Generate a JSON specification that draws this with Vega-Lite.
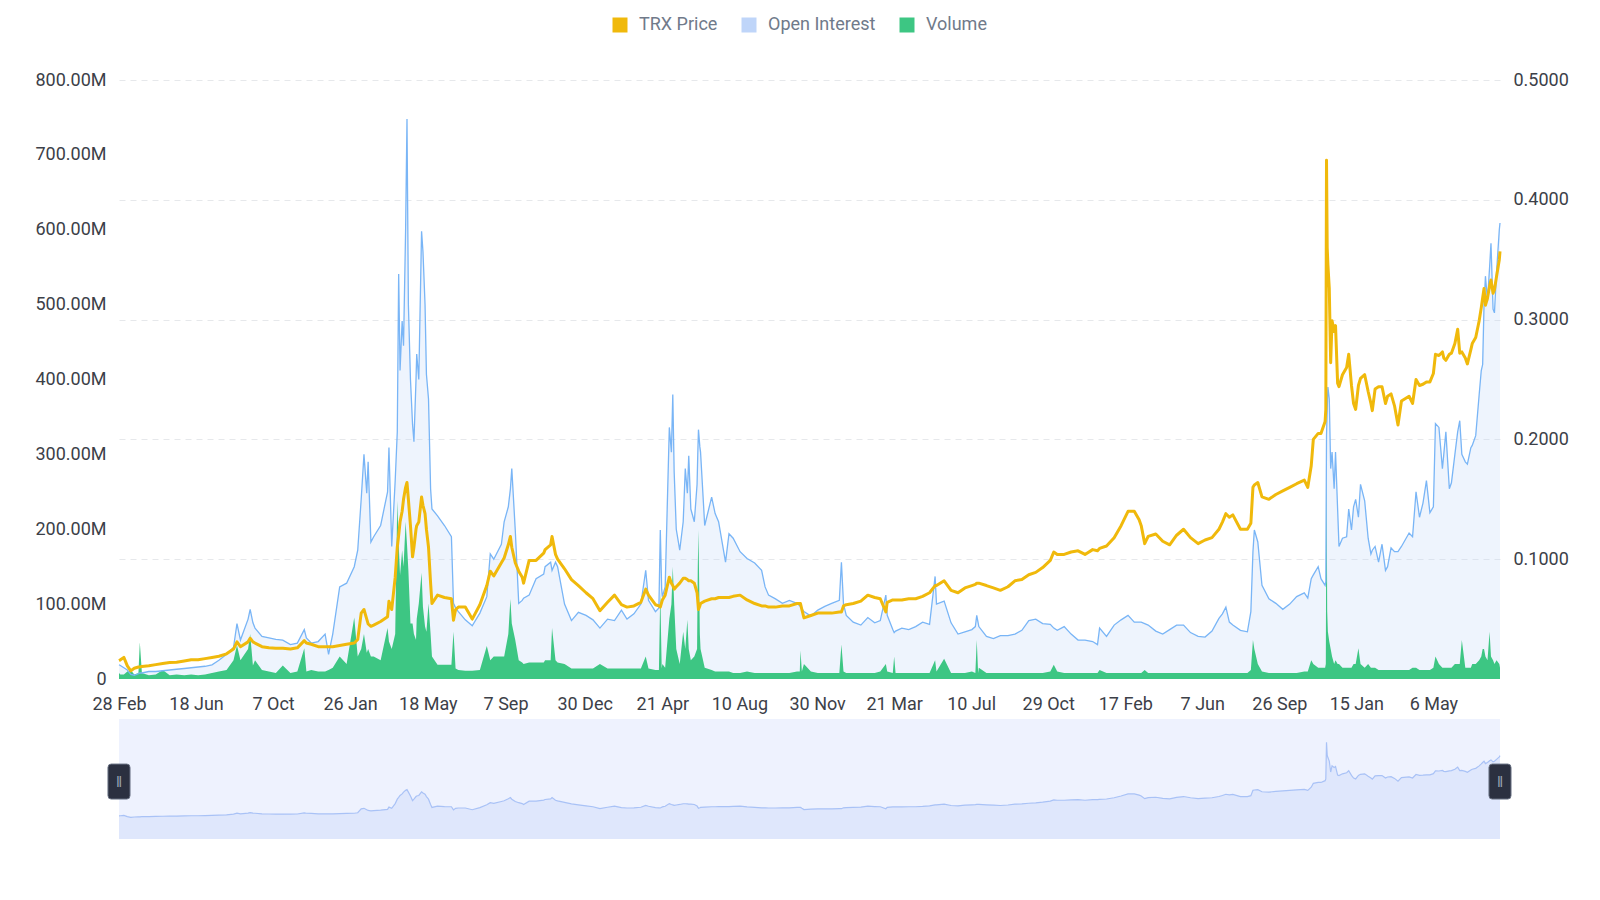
{
  "$schema": "https://vega.github.io/schema/vega-lite/v6.json",
  "autosize": {"type": "pad"},
  "padding": {"left": 34, "top": 16, "right": 10, "bottom": 10},
  "background": "white",
  "spacing": 6,
  "config": {
    "font": "Roboto, sans-serif",
    "view": {"stroke": null},
    "axis": {"labelFont": "Roboto, sans-serif", "labelFontSize": 18, "labelColor": "#3C4048"}
  },
  "data": {
    "format": {"parse": {"date": "date"}},
    "values": [
      {"date": "2020-02-28", "price": 0.0154, "oi": 19, "vol": 8},
      {"date": "2020-03-01", "price": 0.016, "oi": 18, "vol": 6},
      {"date": "2020-03-06", "price": 0.018, "oi": 15, "vol": 6},
      {"date": "2020-03-11", "price": 0.011, "oi": 12, "vol": 10},
      {"date": "2020-03-16", "price": 0.0068, "oi": 6, "vol": 12},
      {"date": "2020-03-21", "price": 0.009, "oi": 5, "vol": 6},
      {"date": "2020-03-27", "price": 0.010, "oi": 7, "vol": 8},
      {"date": "2020-03-29", "price": 0.010, "oi": 8, "vol": 49},
      {"date": "2020-04-01", "price": 0.0105, "oi": 8, "vol": 8},
      {"date": "2020-04-11", "price": 0.011, "oi": 10, "vol": 5},
      {"date": "2020-04-21", "price": 0.012, "oi": 10, "vol": 6},
      {"date": "2020-05-01", "price": 0.013, "oi": 11, "vol": 12},
      {"date": "2020-05-11", "price": 0.0137, "oi": 12, "vol": 5},
      {"date": "2020-05-21", "price": 0.014, "oi": 13, "vol": 6},
      {"date": "2020-06-01", "price": 0.015, "oi": 14, "vol": 5},
      {"date": "2020-06-11", "price": 0.016, "oi": 15, "vol": 6},
      {"date": "2020-06-21", "price": 0.016, "oi": 16, "vol": 5},
      {"date": "2020-07-01", "price": 0.017, "oi": 17, "vol": 6},
      {"date": "2020-07-11", "price": 0.018, "oi": 19, "vol": 8},
      {"date": "2020-07-21", "price": 0.019, "oi": 25, "vol": 10},
      {"date": "2020-08-01", "price": 0.021, "oi": 33, "vol": 12},
      {"date": "2020-08-11", "price": 0.025, "oi": 42, "vol": 25},
      {"date": "2020-08-16", "price": 0.031, "oi": 74, "vol": 45},
      {"date": "2020-08-21", "price": 0.027, "oi": 52, "vol": 25},
      {"date": "2020-09-01", "price": 0.031, "oi": 80, "vol": 40},
      {"date": "2020-09-04", "price": 0.034, "oi": 93, "vol": 60},
      {"date": "2020-09-08", "price": 0.031, "oi": 75, "vol": 18},
      {"date": "2020-09-11", "price": 0.030, "oi": 68, "vol": 25},
      {"date": "2020-09-21", "price": 0.027, "oi": 57, "vol": 12},
      {"date": "2020-10-01", "price": 0.026, "oi": 55, "vol": 10},
      {"date": "2020-10-11", "price": 0.0256, "oi": 53, "vol": 8},
      {"date": "2020-10-21", "price": 0.0256, "oi": 52, "vol": 18},
      {"date": "2020-11-01", "price": 0.025, "oi": 46, "vol": 8},
      {"date": "2020-11-11", "price": 0.026, "oi": 48, "vol": 10},
      {"date": "2020-11-21", "price": 0.032, "oi": 66, "vol": 41},
      {"date": "2020-11-24", "price": 0.030, "oi": 55, "vol": 10},
      {"date": "2020-12-01", "price": 0.029, "oi": 48, "vol": 12},
      {"date": "2020-12-11", "price": 0.027, "oi": 50, "vol": 10},
      {"date": "2020-12-21", "price": 0.027, "oi": 60, "vol": 10},
      {"date": "2020-12-26", "price": 0.027, "oi": 33, "vol": 12},
      {"date": "2021-01-01", "price": 0.027, "oi": 60, "vol": 15},
      {"date": "2021-01-11", "price": 0.028, "oi": 123, "vol": 30},
      {"date": "2021-01-21", "price": 0.029, "oi": 128, "vol": 20},
      {"date": "2021-02-01", "price": 0.030, "oi": 150, "vol": 82},
      {"date": "2021-02-06", "price": 0.033, "oi": 172, "vol": 30},
      {"date": "2021-02-11", "price": 0.055, "oi": 240, "vol": 40},
      {"date": "2021-02-15", "price": 0.058, "oi": 300, "vol": 60},
      {"date": "2021-02-19", "price": 0.050, "oi": 248, "vol": 35},
      {"date": "2021-02-21", "price": 0.046, "oi": 290, "vol": 40},
      {"date": "2021-02-25", "price": 0.044, "oi": 183, "vol": 30},
      {"date": "2021-03-01", "price": 0.045, "oi": 190, "vol": 30},
      {"date": "2021-03-11", "price": 0.048, "oi": 205, "vol": 25},
      {"date": "2021-03-21", "price": 0.052, "oi": 250, "vol": 68},
      {"date": "2021-03-23", "price": 0.065, "oi": 309, "vol": 50},
      {"date": "2021-03-27", "price": 0.058, "oi": 177, "vol": 40},
      {"date": "2021-04-01", "price": 0.085, "oi": 265, "vol": 60},
      {"date": "2021-04-04", "price": 0.110, "oi": 330, "vol": 238},
      {"date": "2021-04-06", "price": 0.120, "oi": 541, "vol": 180},
      {"date": "2021-04-08", "price": 0.131, "oi": 412, "vol": 139},
      {"date": "2021-04-11", "price": 0.140, "oi": 478, "vol": 172},
      {"date": "2021-04-13", "price": 0.150, "oi": 445, "vol": 150},
      {"date": "2021-04-16", "price": 0.160, "oi": 600, "vol": 210},
      {"date": "2021-04-18", "price": 0.164, "oi": 748, "vol": 180},
      {"date": "2021-04-20", "price": 0.150, "oi": 500, "vol": 145},
      {"date": "2021-04-23", "price": 0.128, "oi": 400, "vol": 74},
      {"date": "2021-04-26", "price": 0.102, "oi": 340, "vol": 74},
      {"date": "2021-04-28", "price": 0.110, "oi": 317, "vol": 60},
      {"date": "2021-05-01", "price": 0.125, "oi": 400, "vol": 52},
      {"date": "2021-05-02", "price": 0.128, "oi": 434, "vol": 80},
      {"date": "2021-05-05", "price": 0.131, "oi": 400, "vol": 101},
      {"date": "2021-05-09", "price": 0.152, "oi": 598, "vol": 142},
      {"date": "2021-05-11", "price": 0.145, "oi": 571, "vol": 96},
      {"date": "2021-05-14", "price": 0.138, "oi": 500, "vol": 70},
      {"date": "2021-05-16", "price": 0.125, "oi": 407, "vol": 63},
      {"date": "2021-05-19", "price": 0.110, "oi": 374, "vol": 101},
      {"date": "2021-05-22", "price": 0.080, "oi": 254, "vol": 60},
      {"date": "2021-05-24", "price": 0.063, "oi": 227, "vol": 30},
      {"date": "2021-06-01", "price": 0.070, "oi": 218, "vol": 19},
      {"date": "2021-06-11", "price": 0.068, "oi": 205, "vol": 19},
      {"date": "2021-06-21", "price": 0.067, "oi": 190, "vol": 19},
      {"date": "2021-06-24", "price": 0.049, "oi": 101, "vol": 63},
      {"date": "2021-06-27", "price": 0.058, "oi": 95, "vol": 14},
      {"date": "2021-07-01", "price": 0.060, "oi": 90, "vol": 12},
      {"date": "2021-07-11", "price": 0.060, "oi": 79, "vol": 11},
      {"date": "2021-07-21", "price": 0.050, "oi": 71, "vol": 11},
      {"date": "2021-08-01", "price": 0.062, "oi": 88, "vol": 12},
      {"date": "2021-08-11", "price": 0.078, "oi": 110, "vol": 44},
      {"date": "2021-08-16", "price": 0.090, "oi": 167, "vol": 25},
      {"date": "2021-08-21", "price": 0.086, "oi": 160, "vol": 30},
      {"date": "2021-09-01", "price": 0.097, "oi": 180, "vol": 30},
      {"date": "2021-09-05", "price": 0.101, "oi": 210, "vol": 30},
      {"date": "2021-09-11", "price": 0.112, "oi": 230, "vol": 60},
      {"date": "2021-09-14", "price": 0.119, "oi": 254, "vol": 107},
      {"date": "2021-09-16", "price": 0.110, "oi": 281, "vol": 74},
      {"date": "2021-09-21", "price": 0.097, "oi": 199, "vol": 52},
      {"date": "2021-09-26", "price": 0.090, "oi": 101, "vol": 25},
      {"date": "2021-10-01", "price": 0.085, "oi": 105, "vol": 22},
      {"date": "2021-10-03", "price": 0.080, "oi": 108, "vol": 20},
      {"date": "2021-10-11", "price": 0.099, "oi": 112, "vol": 22},
      {"date": "2021-10-21", "price": 0.099, "oi": 134, "vol": 22},
      {"date": "2021-11-01", "price": 0.105, "oi": 140, "vol": 22},
      {"date": "2021-11-03", "price": 0.108, "oi": 150, "vol": 25},
      {"date": "2021-11-11", "price": 0.112, "oi": 156, "vol": 25},
      {"date": "2021-11-13", "price": 0.119, "oi": 145, "vol": 68},
      {"date": "2021-11-18", "price": 0.104, "oi": 156, "vol": 25},
      {"date": "2021-11-21", "price": 0.100, "oi": 150, "vol": 22},
      {"date": "2021-12-01", "price": 0.092, "oi": 100, "vol": 20},
      {"date": "2021-12-11", "price": 0.083, "oi": 78, "vol": 14},
      {"date": "2021-12-21", "price": 0.078, "oi": 89, "vol": 14},
      {"date": "2022-01-01", "price": 0.072, "oi": 85, "vol": 14},
      {"date": "2022-01-11", "price": 0.067, "oi": 79, "vol": 14},
      {"date": "2022-01-21", "price": 0.057, "oi": 68, "vol": 20},
      {"date": "2022-02-01", "price": 0.064, "oi": 80, "vol": 14},
      {"date": "2022-02-11", "price": 0.070, "oi": 78, "vol": 14},
      {"date": "2022-02-21", "price": 0.062, "oi": 92, "vol": 14},
      {"date": "2022-03-01", "price": 0.060, "oi": 80, "vol": 14},
      {"date": "2022-03-11", "price": 0.061, "oi": 87, "vol": 14},
      {"date": "2022-03-21", "price": 0.064, "oi": 100, "vol": 14},
      {"date": "2022-03-28", "price": 0.075, "oi": 145, "vol": 30},
      {"date": "2022-04-01", "price": 0.070, "oi": 105, "vol": 14},
      {"date": "2022-04-11", "price": 0.062, "oi": 90, "vol": 12},
      {"date": "2022-04-16", "price": 0.061, "oi": 95, "vol": 12},
      {"date": "2022-04-18", "price": 0.060, "oi": 199, "vol": 117},
      {"date": "2022-04-20", "price": 0.064, "oi": 120, "vol": 14},
      {"date": "2022-04-21", "price": 0.066, "oi": 110, "vol": 20},
      {"date": "2022-04-25", "price": 0.070, "oi": 123, "vol": 15},
      {"date": "2022-05-01", "price": 0.085, "oi": 336, "vol": 80},
      {"date": "2022-05-04", "price": 0.080, "oi": 303, "vol": 100},
      {"date": "2022-05-06", "price": 0.078, "oi": 380, "vol": 150},
      {"date": "2022-05-08", "price": 0.075, "oi": 276, "vol": 100},
      {"date": "2022-05-11", "price": 0.077, "oi": 200, "vol": 40},
      {"date": "2022-05-16", "price": 0.080, "oi": 172, "vol": 20},
      {"date": "2022-05-21", "price": 0.084, "oi": 210, "vol": 63},
      {"date": "2022-05-24", "price": 0.084, "oi": 281, "vol": 40},
      {"date": "2022-05-27", "price": 0.083, "oi": 248, "vol": 79},
      {"date": "2022-05-29", "price": 0.082, "oi": 298, "vol": 40},
      {"date": "2022-06-01", "price": 0.082, "oi": 227, "vol": 25},
      {"date": "2022-06-06", "price": 0.080, "oi": 210, "vol": 30},
      {"date": "2022-06-10", "price": 0.072, "oi": 260, "vol": 40},
      {"date": "2022-06-11", "price": 0.065, "oi": 300, "vol": 150},
      {"date": "2022-06-12", "price": 0.058, "oi": 333, "vol": 199},
      {"date": "2022-06-14", "price": 0.061, "oi": 310, "vol": 60},
      {"date": "2022-06-15", "price": 0.063, "oi": 303, "vol": 40},
      {"date": "2022-06-21", "price": 0.065, "oi": 205, "vol": 15},
      {"date": "2022-07-01", "price": 0.067, "oi": 243, "vol": 12},
      {"date": "2022-07-06", "price": 0.067, "oi": 221, "vol": 10},
      {"date": "2022-07-11", "price": 0.068, "oi": 210, "vol": 10},
      {"date": "2022-07-21", "price": 0.068, "oi": 156, "vol": 10},
      {"date": "2022-07-26", "price": 0.068, "oi": 194, "vol": 10},
      {"date": "2022-08-01", "price": 0.069, "oi": 188, "vol": 8},
      {"date": "2022-08-11", "price": 0.070, "oi": 170, "vol": 8},
      {"date": "2022-08-21", "price": 0.066, "oi": 161, "vol": 10},
      {"date": "2022-09-01", "price": 0.063, "oi": 155, "vol": 8},
      {"date": "2022-09-11", "price": 0.061, "oi": 145, "vol": 8},
      {"date": "2022-09-16", "price": 0.061, "oi": 123, "vol": 8},
      {"date": "2022-09-21", "price": 0.060, "oi": 112, "vol": 8},
      {"date": "2022-10-01", "price": 0.060, "oi": 107, "vol": 8},
      {"date": "2022-10-11", "price": 0.061, "oi": 101, "vol": 8},
      {"date": "2022-10-21", "price": 0.061, "oi": 105, "vol": 8},
      {"date": "2022-11-01", "price": 0.063, "oi": 101, "vol": 10},
      {"date": "2022-11-05", "price": 0.063, "oi": 98, "vol": 10},
      {"date": "2022-11-06", "price": 0.063, "oi": 96, "vol": 38},
      {"date": "2022-11-08", "price": 0.058, "oi": 94, "vol": 10},
      {"date": "2022-11-11", "price": 0.051, "oi": 90, "vol": 20},
      {"date": "2022-11-21", "price": 0.053, "oi": 84, "vol": 10},
      {"date": "2022-12-01", "price": 0.055, "oi": 92, "vol": 8},
      {"date": "2022-12-11", "price": 0.055, "oi": 97, "vol": 8},
      {"date": "2022-12-21", "price": 0.055, "oi": 101, "vol": 8},
      {"date": "2023-01-01", "price": 0.056, "oi": 105, "vol": 8},
      {"date": "2023-01-04", "price": 0.056, "oi": 156, "vol": 46},
      {"date": "2023-01-07", "price": 0.061, "oi": 100, "vol": 10},
      {"date": "2023-01-11", "price": 0.062, "oi": 85, "vol": 8},
      {"date": "2023-01-21", "price": 0.063, "oi": 76, "vol": 8},
      {"date": "2023-02-01", "price": 0.065, "oi": 72, "vol": 8},
      {"date": "2023-02-11", "price": 0.070, "oi": 82, "vol": 8},
      {"date": "2023-02-21", "price": 0.068, "oi": 75, "vol": 8},
      {"date": "2023-03-01", "price": 0.067, "oi": 78, "vol": 10},
      {"date": "2023-03-09", "price": 0.056, "oi": 112, "vol": 20},
      {"date": "2023-03-11", "price": 0.064, "oi": 85, "vol": 10},
      {"date": "2023-03-19", "price": 0.066, "oi": 66, "vol": 8},
      {"date": "2023-03-21", "price": 0.066, "oi": 62, "vol": 30},
      {"date": "2023-03-23", "price": 0.066, "oi": 64, "vol": 8},
      {"date": "2023-04-01", "price": 0.066, "oi": 68, "vol": 8},
      {"date": "2023-04-11", "price": 0.067, "oi": 66, "vol": 8},
      {"date": "2023-04-21", "price": 0.067, "oi": 70, "vol": 8},
      {"date": "2023-05-01", "price": 0.069, "oi": 76, "vol": 8},
      {"date": "2023-05-11", "price": 0.072, "oi": 73, "vol": 8},
      {"date": "2023-05-19", "price": 0.078, "oi": 137, "vol": 25},
      {"date": "2023-05-21", "price": 0.078, "oi": 100, "vol": 10},
      {"date": "2023-06-01", "price": 0.082, "oi": 104, "vol": 27},
      {"date": "2023-06-11", "price": 0.074, "oi": 75, "vol": 8},
      {"date": "2023-06-21", "price": 0.072, "oi": 60, "vol": 8},
      {"date": "2023-07-01", "price": 0.076, "oi": 63, "vol": 8},
      {"date": "2023-07-11", "price": 0.078, "oi": 66, "vol": 10},
      {"date": "2023-07-16", "price": 0.079, "oi": 70, "vol": 8},
      {"date": "2023-07-18", "price": 0.080, "oi": 85, "vol": 52},
      {"date": "2023-07-20", "price": 0.080, "oi": 75, "vol": 8},
      {"date": "2023-07-21", "price": 0.080, "oi": 70, "vol": 15},
      {"date": "2023-08-01", "price": 0.078, "oi": 57, "vol": 8},
      {"date": "2023-08-11", "price": 0.076, "oi": 54, "vol": 8},
      {"date": "2023-08-21", "price": 0.074, "oi": 58, "vol": 8},
      {"date": "2023-09-01", "price": 0.077, "oi": 58, "vol": 8},
      {"date": "2023-09-11", "price": 0.082, "oi": 60, "vol": 8},
      {"date": "2023-09-21", "price": 0.083, "oi": 65, "vol": 8},
      {"date": "2023-10-01", "price": 0.087, "oi": 78, "vol": 8},
      {"date": "2023-10-11", "price": 0.089, "oi": 80, "vol": 8},
      {"date": "2023-10-21", "price": 0.093, "oi": 74, "vol": 8},
      {"date": "2023-11-01", "price": 0.099, "oi": 73, "vol": 10},
      {"date": "2023-11-06", "price": 0.106, "oi": 68, "vol": 19},
      {"date": "2023-11-11", "price": 0.104, "oi": 65, "vol": 10},
      {"date": "2023-11-21", "price": 0.104, "oi": 70, "vol": 8},
      {"date": "2023-12-01", "price": 0.106, "oi": 60, "vol": 8},
      {"date": "2023-12-11", "price": 0.107, "oi": 52, "vol": 8},
      {"date": "2023-12-21", "price": 0.104, "oi": 52, "vol": 8},
      {"date": "2024-01-01", "price": 0.108, "oi": 50, "vol": 8},
      {"date": "2024-01-08", "price": 0.107, "oi": 46, "vol": 8},
      {"date": "2024-01-11", "price": 0.109, "oi": 68, "vol": 12},
      {"date": "2024-01-21", "price": 0.111, "oi": 57, "vol": 8},
      {"date": "2024-02-01", "price": 0.118, "oi": 72, "vol": 8},
      {"date": "2024-02-11", "price": 0.128, "oi": 79, "vol": 8},
      {"date": "2024-02-21", "price": 0.140, "oi": 85, "vol": 8},
      {"date": "2024-03-01", "price": 0.140, "oi": 76, "vol": 8},
      {"date": "2024-03-08", "price": 0.133, "oi": 76, "vol": 8},
      {"date": "2024-03-11", "price": 0.128, "oi": 76, "vol": 8},
      {"date": "2024-03-16", "price": 0.113, "oi": 74, "vol": 12},
      {"date": "2024-03-21", "price": 0.119, "oi": 72, "vol": 8},
      {"date": "2024-04-01", "price": 0.121, "oi": 64, "vol": 8},
      {"date": "2024-04-11", "price": 0.115, "oi": 60, "vol": 8},
      {"date": "2024-04-21", "price": 0.112, "oi": 66, "vol": 8},
      {"date": "2024-05-01", "price": 0.120, "oi": 72, "vol": 8},
      {"date": "2024-05-11", "price": 0.125, "oi": 72, "vol": 8},
      {"date": "2024-05-21", "price": 0.118, "oi": 62, "vol": 8},
      {"date": "2024-06-01", "price": 0.113, "oi": 57, "vol": 8},
      {"date": "2024-06-11", "price": 0.116, "oi": 56, "vol": 8},
      {"date": "2024-06-21", "price": 0.118, "oi": 64, "vol": 8},
      {"date": "2024-07-01", "price": 0.125, "oi": 81, "vol": 8},
      {"date": "2024-07-06", "price": 0.131, "oi": 87, "vol": 8},
      {"date": "2024-07-11", "price": 0.138, "oi": 96, "vol": 8},
      {"date": "2024-07-16", "price": 0.135, "oi": 76, "vol": 8},
      {"date": "2024-07-21", "price": 0.137, "oi": 72, "vol": 8},
      {"date": "2024-08-01", "price": 0.125, "oi": 65, "vol": 8},
      {"date": "2024-08-11", "price": 0.125, "oi": 63, "vol": 8},
      {"date": "2024-08-16", "price": 0.130, "oi": 90, "vol": 12},
      {"date": "2024-08-19", "price": 0.160, "oi": 170, "vol": 52},
      {"date": "2024-08-21", "price": 0.162, "oi": 199, "vol": 40},
      {"date": "2024-08-26", "price": 0.164, "oi": 183, "vol": 20},
      {"date": "2024-09-01", "price": 0.152, "oi": 125, "vol": 10},
      {"date": "2024-09-11", "price": 0.150, "oi": 107, "vol": 8},
      {"date": "2024-09-21", "price": 0.154, "oi": 101, "vol": 8},
      {"date": "2024-10-01", "price": 0.157, "oi": 93, "vol": 8},
      {"date": "2024-10-11", "price": 0.160, "oi": 100, "vol": 8},
      {"date": "2024-10-21", "price": 0.163, "oi": 110, "vol": 8},
      {"date": "2024-11-01", "price": 0.166, "oi": 115, "vol": 10},
      {"date": "2024-11-06", "price": 0.160, "oi": 108, "vol": 10},
      {"date": "2024-11-11", "price": 0.178, "oi": 134, "vol": 25},
      {"date": "2024-11-14", "price": 0.200, "oi": 139, "vol": 20},
      {"date": "2024-11-21", "price": 0.205, "oi": 150, "vol": 15},
      {"date": "2024-11-25", "price": 0.205, "oi": 134, "vol": 15},
      {"date": "2024-12-01", "price": 0.215, "oi": 125, "vol": 15},
      {"date": "2024-12-02", "price": 0.225, "oi": 130, "vol": 20},
      {"date": "2024-12-03", "price": 0.433, "oi": 325, "vol": 320},
      {"date": "2024-12-04", "price": 0.360, "oi": 360, "vol": 90},
      {"date": "2024-12-05", "price": 0.346, "oi": 390, "vol": 63},
      {"date": "2024-12-07", "price": 0.326, "oi": 374, "vol": 50},
      {"date": "2024-12-09", "price": 0.264, "oi": 281, "vol": 40},
      {"date": "2024-12-11", "price": 0.299, "oi": 303, "vol": 30},
      {"date": "2024-12-14", "price": 0.290, "oi": 254, "vol": 20},
      {"date": "2024-12-16", "price": 0.295, "oi": 303, "vol": 25},
      {"date": "2024-12-19", "price": 0.247, "oi": 227, "vol": 20},
      {"date": "2024-12-21", "price": 0.244, "oi": 177, "vol": 20},
      {"date": "2024-12-26", "price": 0.254, "oi": 188, "vol": 15},
      {"date": "2025-01-01", "price": 0.260, "oi": 190, "vol": 15},
      {"date": "2025-01-04", "price": 0.271, "oi": 227, "vol": 15},
      {"date": "2025-01-08", "price": 0.245, "oi": 199, "vol": 15},
      {"date": "2025-01-11", "price": 0.230, "oi": 230, "vol": 20},
      {"date": "2025-01-14", "price": 0.225, "oi": 240, "vol": 20},
      {"date": "2025-01-18", "price": 0.245, "oi": 216, "vol": 41},
      {"date": "2025-01-21", "price": 0.251, "oi": 260, "vol": 20},
      {"date": "2025-01-27", "price": 0.254, "oi": 238, "vol": 15},
      {"date": "2025-02-01", "price": 0.240, "oi": 188, "vol": 20},
      {"date": "2025-02-05", "price": 0.230, "oi": 167, "vol": 15},
      {"date": "2025-02-07", "price": 0.224, "oi": 172, "vol": 15},
      {"date": "2025-02-11", "price": 0.242, "oi": 177, "vol": 15},
      {"date": "2025-02-16", "price": 0.244, "oi": 156, "vol": 12},
      {"date": "2025-02-21", "price": 0.244, "oi": 180, "vol": 12},
      {"date": "2025-02-26", "price": 0.230, "oi": 145, "vol": 12},
      {"date": "2025-03-01", "price": 0.236, "oi": 150, "vol": 12},
      {"date": "2025-03-06", "price": 0.238, "oi": 175, "vol": 12},
      {"date": "2025-03-11", "price": 0.228, "oi": 170, "vol": 12},
      {"date": "2025-03-16", "price": 0.212, "oi": 170, "vol": 12},
      {"date": "2025-03-21", "price": 0.232, "oi": 177, "vol": 12},
      {"date": "2025-04-01", "price": 0.236, "oi": 195, "vol": 12},
      {"date": "2025-04-06", "price": 0.230, "oi": 190, "vol": 15},
      {"date": "2025-04-11", "price": 0.250, "oi": 250, "vol": 15},
      {"date": "2025-04-16", "price": 0.245, "oi": 216, "vol": 12},
      {"date": "2025-04-21", "price": 0.246, "oi": 235, "vol": 12},
      {"date": "2025-04-26", "price": 0.248, "oi": 265, "vol": 12},
      {"date": "2025-05-01", "price": 0.248, "oi": 222, "vol": 12},
      {"date": "2025-05-06", "price": 0.255, "oi": 230, "vol": 15},
      {"date": "2025-05-09", "price": 0.271, "oi": 341, "vol": 30},
      {"date": "2025-05-14", "price": 0.270, "oi": 336, "vol": 20},
      {"date": "2025-05-19", "price": 0.273, "oi": 281, "vol": 15},
      {"date": "2025-05-21", "price": 0.268, "oi": 300, "vol": 15},
      {"date": "2025-05-24", "price": 0.266, "oi": 330, "vol": 15},
      {"date": "2025-05-29", "price": 0.271, "oi": 254, "vol": 15},
      {"date": "2025-06-01", "price": 0.272, "oi": 262, "vol": 15},
      {"date": "2025-06-06", "price": 0.280, "oi": 300, "vol": 20},
      {"date": "2025-06-10", "price": 0.292, "oi": 330, "vol": 20},
      {"date": "2025-06-13", "price": 0.272, "oi": 345, "vol": 20},
      {"date": "2025-06-16", "price": 0.273, "oi": 300, "vol": 52},
      {"date": "2025-06-21", "price": 0.268, "oi": 290, "vol": 15},
      {"date": "2025-06-24", "price": 0.263, "oi": 287, "vol": 15},
      {"date": "2025-06-29", "price": 0.275, "oi": 309, "vol": 15},
      {"date": "2025-07-01", "price": 0.280, "oi": 312, "vol": 20},
      {"date": "2025-07-06", "price": 0.285, "oi": 325, "vol": 20},
      {"date": "2025-07-11", "price": 0.299, "oi": 380, "vol": 25},
      {"date": "2025-07-14", "price": 0.310, "oi": 412, "vol": 30},
      {"date": "2025-07-16", "price": 0.318, "oi": 420, "vol": 40},
      {"date": "2025-07-18", "price": 0.326, "oi": 500, "vol": 40},
      {"date": "2025-07-20", "price": 0.312, "oi": 538, "vol": 30},
      {"date": "2025-07-23", "price": 0.318, "oi": 505, "vol": 25},
      {"date": "2025-07-26", "price": 0.328, "oi": 550, "vol": 63},
      {"date": "2025-07-28", "price": 0.333, "oi": 582, "vol": 30},
      {"date": "2025-07-31", "price": 0.322, "oi": 494, "vol": 25},
      {"date": "2025-08-02", "price": 0.325, "oi": 489, "vol": 20},
      {"date": "2025-08-05", "price": 0.336, "oi": 543, "vol": 25},
      {"date": "2025-08-09", "price": 0.350, "oi": 600, "vol": 20},
      {"date": "2025-08-10", "price": 0.357, "oi": 609, "vol": 15}
    ]
  },
  "vconcat": [
    {
      "width": 1381,
      "height": 599,
      "encoding": {
        "x": {
          "field": "date",
          "type": "temporal",
          "scale": {
            "type": "utc",
            "domain": [
              {"year": 2020, "month": 2, "date": 28, "utc": true},
              {"year": 2025, "month": 8, "date": 10, "utc": true}
            ]
          },
          "axis": {
            "title": null,
            "format": "%-d %b",
            "values": [
              {"year": 2020, "month": 2, "date": 28, "utc": true},
              {"year": 2020, "month": 6, "date": 18, "utc": true},
              {"year": 2020, "month": 10, "date": 7, "utc": true},
              {"year": 2021, "month": 1, "date": 26, "utc": true},
              {"year": 2021, "month": 5, "date": 18, "utc": true},
              {"year": 2021, "month": 9, "date": 7, "utc": true},
              {"year": 2021, "month": 12, "date": 30, "utc": true},
              {"year": 2022, "month": 4, "date": 21, "utc": true},
              {"year": 2022, "month": 8, "date": 10, "utc": true},
              {"year": 2022, "month": 11, "date": 30, "utc": true},
              {"year": 2023, "month": 3, "date": 21, "utc": true},
              {"year": 2023, "month": 7, "date": 10, "utc": true},
              {"year": 2023, "month": 10, "date": 29, "utc": true},
              {"year": 2024, "month": 2, "date": 17, "utc": true},
              {"year": 2024, "month": 6, "date": 7, "utc": true},
              {"year": 2024, "month": 9, "date": 26, "utc": true},
              {"year": 2025, "month": 1, "date": 15, "utc": true},
              {"year": 2025, "month": 5, "date": 6, "utc": true}
            ],
            "labelFlush": false,
            "labelOverlap": false,
            "ticks": false,
            "domain": false,
            "grid": false,
            "labelPadding": 16
          }
        }
      },
      "layer": [
        {
          "layer": [
            {
              "mark": {"type": "area", "fillOpacity": 0.27},
              "encoding": {
                "y": {
                  "field": "oi",
                  "type": "quantitative",
                  "scale": {"domain": [0, 800], "nice": false},
                  "axis": {
                    "orient": "left",
                    "title": null,
                    "values": [0, 100, 200, 300, 400, 500, 600, 700, 800],
                    "labelExpr": "datum.value == 0 ? '0' : format(datum.value, '.2f') + 'M'",
                    "grid": false,
                    "ticks": false,
                    "domain": false,
                    "labelPadding": 13
                  }
                },
                "color": {
                  "datum": "Open Interest",
                  "type": "nominal",
                  "scale": {
                    "domain": ["TRX Price", "Open Interest", "Volume"],
                    "range": ["#F0B90B", "#BFD5F9", "#3DC683"]
                  },
                  "legend": {
                    "orient": "none",
                    "legendX": 492,
                    "legendY": -64,
                    "direction": "horizontal",
                    "title": null,
                    "symbolType": "square",
                    "symbolSize": 225,
                    "symbolStrokeWidth": 0,
                    "labelFont": "Roboto, sans-serif",
                    "labelFontSize": 18,
                    "labelColor": "#707A8A",
                    "labelOffset": 10,
                    "columnPadding": 22,
                    "encode": {
                      "symbols": {
                        "update": {
                          "fill": {"scale": "color", "field": "value"},
                          "fillOpacity": {"value": 1},
                          "opacity": {"value": 1},
                          "strokeWidth": {"value": 0}
                        }
                      }
                    }
                  }
                }
              }
            },
            {
              "mark": {"type": "area"},
              "encoding": {
                "y": {
                  "field": "vol",
                  "type": "quantitative",
                  "axis": {
                    "orient": "left",
                    "title": null,
                    "values": [0, 100, 200, 300, 400, 500, 600, 700, 800],
                    "labelExpr": "datum.value == 0 ? '0' : format(datum.value, '.2f') + 'M'",
                    "grid": false,
                    "ticks": false,
                    "domain": false,
                    "labelPadding": 13
                  }
                },
                "color": {"datum": "Volume", "type": "nominal"}
              }
            },
            {
              "mark": {"type": "line", "strokeWidth": 1.3, "color": "#79B5F6"},
              "encoding": {
                "y": {
                  "field": "oi",
                  "type": "quantitative",
                  "axis": {
                    "orient": "left",
                    "title": null,
                    "values": [0, 100, 200, 300, 400, 500, 600, 700, 800],
                    "labelExpr": "datum.value == 0 ? '0' : format(datum.value, '.2f') + 'M'",
                    "grid": false,
                    "ticks": false,
                    "domain": false,
                    "labelPadding": 13
                  }
                }
              }
            }
          ]
        },
        {
          "mark": {"type": "line", "strokeWidth": 3, "strokeJoin": "round"},
          "encoding": {
            "y": {
              "field": "price",
              "type": "quantitative",
              "scale": {"domain": [0, 0.5], "nice": false},
              "axis": {
                "orient": "right",
                "title": null,
                "values": [0.1, 0.2, 0.3, 0.4, 0.5],
                "format": ".4f",
                "grid": true,
                "gridDash": [6, 5],
                "gridColor": "#E6E8EB",
                "ticks": false,
                "domain": false,
                "labelPadding": 13
              }
            },
            "color": {"datum": "TRX Price", "type": "nominal"}
          }
        }
      ],
      "resolve": {"scale": {"y": "independent"}}
    },
    {
      "width": 1381,
      "height": 120,
      "view": {"fill": "#EEF2FE", "stroke": null},
      "encoding": {
        "x": {
          "field": "date",
          "type": "temporal",
          "scale": {
            "type": "utc",
            "domain": [
              {"year": 2020, "month": 2, "date": 28, "utc": true},
              {"year": 2025, "month": 8, "date": 10, "utc": true}
            ]
          },
          "axis": null
        }
      },
      "layer": [
        {
          "mark": {"type": "area", "color": "#D8E2FB", "line": {"color": "#A9C2F6", "strokeWidth": 1.2}},
          "encoding": {
            "y": {"field": "price", "type": "quantitative", "scale": {"domain": [-0.116, 0.565], "nice": false, "zero": false}, "axis": null},
            "y2": {"datum": -0.116}
          }
        },
        {
          "transform": [
            {"joinaggregate": [{"op": "min", "field": "date", "as": "d0"}, {"op": "max", "field": "date", "as": "d1"}]},
            {"filter": "+datum.date === +datum.d0 || +datum.date === +datum.d1"}
          ],
          "layer": [
            {
              "mark": {
                "type": "point",
                "shape": "M-0.45,-1 L0.45,-1 Q0.63,-1 0.63,-0.8 L0.63,0.8 Q0.63,1 0.45,1 L-0.45,1 Q-0.63,1 -0.63,0.8 L-0.63,-0.8 Q-0.63,-1 -0.45,-1 Z",
                "size": 1225,
                "filled": true,
                "fill": "#2B3040",
                "stroke": "#6B7385",
                "strokeWidth": 1,
                "opacity": 1
              },
              "encoding": {"y": {"datum": 0.21, "type": "quantitative"}}
            },
            {
              "mark": {"type": "text", "text": "‖", "fontSize": 15, "color": "#9AA3B5", "baseline": "middle", "align": "center"},
              "encoding": {"y": {"datum": 0.21, "type": "quantitative"}}
            }
          ]
        }
      ]
    }
  ]
}
